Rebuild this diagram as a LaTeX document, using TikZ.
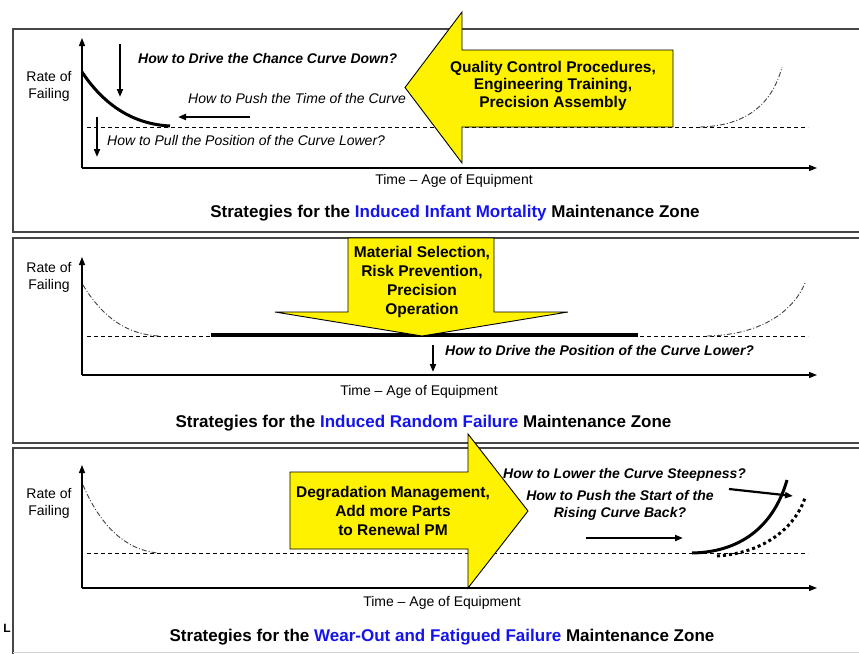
\documentclass[tikz,border=0pt]{standalone}
\usepackage{fontspec}
\setmainfont{Liberation Sans}
\usetikzlibrary{arrows.meta}

\definecolor{zoneblue}{RGB}{20,20,235}
\definecolor{framegray}{RGB}{70,70,70}

\tikzset{
  panel/.style={framegray, line width=1.6pt},
  axisline/.style={black, line width=1.2pt},
  floorline/.style={black, line width=0.9pt, dash pattern=on 4pt off 3pt},
  ghost/.style={black!75, line width=0.9pt, dash pattern=on 5pt off 2pt on 1pt off 2pt},
  lifecurve/.style={black, line width=3pt},
  hint/.style={black, line width=1.8pt, ->},
  bigarrow/.style={fill=yellow, draw=black, line width=0.9pt, line join=miter},
  ask/.style={font=\fontsize{14}{17}\selectfont\itshape, inner sep=0pt},
  askb/.style={font=\fontsize{14}{17}\selectfont\bfseries\itshape, inner sep=0pt},
  axislabel/.style={font=\fontsize{14}{17}\selectfont, inner sep=0pt},
  arrowtext/.style={font=\fontsize{15.5}{19}\selectfont\bfseries, align=center, inner sep=0pt},
  zonetitle/.style={font=\fontsize{17}{19}\selectfont\bfseries, inner sep=0pt},
}

\begin{document}
\begin{tikzpicture}[x=1pt, y=-1pt, >={Triangle[length=8pt,width=6pt]}]
    \useasboundingbox (0,0) rectangle (859,653);

    % Zone frames
    \draw[panel] (880,29) -- (13,29) -- (13,232) -- (880,232);
    \draw[panel] (880,238) -- (13,238) -- (13,443) -- (880,443);
    \draw[panel] (880,448) -- (13,448) -- (13,660);
    \draw[gray!35, line width=1pt] (13,652) -- (880,652);

    % Axes, floor line and axis labels of each zone
    \foreach \n/\c/\t/\f/\r/\x/\s in {1/168/38/127/86.5/454/181, 2/375/257/336/277/419/392, 3/588/465/553/503.5/442/603} {
        \draw[axisline,->] (82,\c) -- (82,\t);
        \draw[axisline,->] (82,\c) -- (817,\c);
        \draw[floorline] (87,\f) -- (808,\f);
        \node[axislabel, align=center] (rate\n) at (49,\r) {Rate of\\Failing};
        \node[axislabel] (time\n) at (\x,\s) {Time – Age of Equipment};
    }

    % Infant mortality zone
    \draw[lifecurve] (82,72) .. controls (102,102) and (130,124) .. (170,126);
    \draw[ghost] (700,127) .. controls (745,126) and (772,105) .. (782,67);
    \draw[hint] (120,44) -- (120,97);
    \draw[hint, line width=2.4pt] (250,117) -- (178,117);
    \draw[hint] (97,117) -- (97,157);
    \node[askb, anchor=west] (drive1) at (138,58) {How to Drive the Chance Curve Down?};
    \node[ask, anchor=west] (push1) at (188,98) {How to Push the Time of the Curve};
    \node[ask, anchor=west] (pull1) at (107,140) {How to Pull the Position of the Curve Lower?};
    \draw[bigarrow] (673,50) -- (462,50) -- (462,12) -- (405,87.5) -- (462,163) -- (462,127) -- (673,127) -- cycle;
    \node[arrowtext, font=\fontsize{15.5}{17.5}\selectfont\bfseries] (quality) at (553,85.5)
        {Quality Control Procedures,\\Engineering Training,\\Precision Assembly};
    \node[zonetitle] (zone1) at (455,213)
        {Strategies for the \textcolor{zoneblue}{Induced Infant Mortality} Maintenance Zone};

    % Random failure zone
    \draw[ghost] (83,285) .. controls (103,318) and (128,335) .. (160,336);
    \draw[ghost] (707,336) .. controls (760,335) and (793,312) .. (805,283);
    \draw[lifecurve, line width=3.6pt] (211,335) -- (638,335);
    \draw[bigarrow] (348,238) -- (348,312) -- (275,312) -- (422,336) -- (568,312) -- (494,312) -- (494,238) -- cycle;
    \node[arrowtext] (material) at (422,281.5)
        {Material Selection,\\Risk Prevention,\\Precision\\Operation};
    \draw[hint] (433,345) -- (433,372);
    \node[askb, anchor=west] (drive2) at (445,350) {How to Drive the Position of the Curve Lower?};
    \node[zonetitle] (zone2) at (423.5,423)
        {Strategies for the \textcolor{zoneblue}{Induced Random Failure} Maintenance Zone};

    % Wear-out zone
    \draw[ghost] (83,485) .. controls (100,525) and (125,550) .. (158,553);
    \draw[lifecurve] (692,553) .. controls (745,552) and (775,522) .. (787,480);
    \draw[lifecurve, dash pattern=on 3pt off 3pt] (717,556) .. controls (765,553) and (795,527) .. (805,498);
    \draw[hint, line width=2.2pt] (586,538) -- (683,538);
    \draw[hint, line width=2.2pt] (729,489) -- (793,496);
    \node[askb, anchor=west] (steep3) at (503,475) {How to Lower the Curve Steepness?};
    \node[askb, align=center] (start3) at (620,505.5) {How to Push the Start of the\\Rising Curve Back?};
    \draw[bigarrow] (290,472) -- (468,472) -- (468,434) -- (528,511) -- (468,588) -- (468,549) -- (290,549) -- cycle;
    \node[arrowtext] (degrade) at (393,511)
        {Degradation Management,\\Add more Parts\\to Renewal PM};
    \node[zonetitle] (zone3) at (442,637)
        {Strategies for the \textcolor{zoneblue}{Wear-Out and Fatigued Failure} Maintenance Zone};

    \node[font=\fontsize{12}{13}\selectfont\bfseries, inner sep=0pt] (stray) at (7,628) {L};
\end{tikzpicture}
\end{document}
